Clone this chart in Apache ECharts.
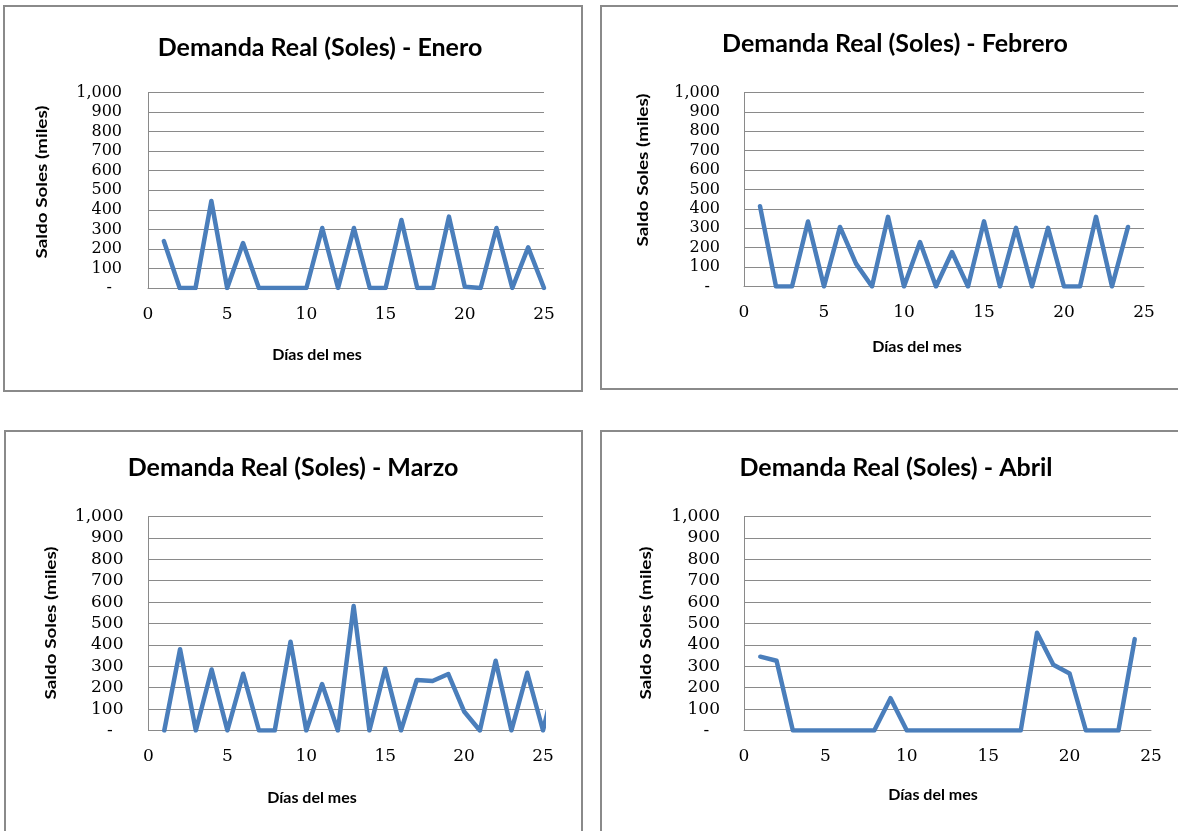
<!DOCTYPE html>
<html>
<head>
<meta charset="utf-8">
<script src="https://cdn.jsdelivr.net/npm/echarts@6/dist/echarts.min.js"></script>
<style>
  html, body { margin: 0; padding: 0; background: #ffffff; }
  #c { width: 1178px; height: 831px; }
</style>
</head>
<body>
<div id="c"></div>
<script>
// Saldo diario (miles de soles) por mes
const diasEnero = [1, 2, 3, 4, 5, 6, 7, 8, 9, 10, 11, 12, 13, 14, 15, 16, 17, 18, 19, 20, 21, 22, 23, 24, 25];
const saldoEnero = [240, 0, 0, 445, 0, 230, 0, 0, 0, 0, 307, 0, 307, 0, 0, 348, 0, 0, 365, 6, 0, 307, 0, 208, 0];

const diasFebrero = [1, 2, 3, 4, 5, 6, 7, 8, 9, 10, 11, 12, 13, 14, 15, 16, 17, 18, 19, 20, 21, 22, 23, 24];
const saldoFebrero = [414, 0, 0, 335, 0, 307, 118, 0, 359, 0, 229, 0, 178, 0, 336, 0, 302, 0, 302, 0, 0, 359, 0, 307];

const diasMarzo = [1, 2, 3, 4, 5, 6, 7, 8, 9, 10, 11, 12, 13, 14, 15, 16, 17, 18, 19, 20, 21, 22, 23, 24, 25, 26];
const saldoMarzo = [0, 380, 0, 285, 0, 265, 0, 0, 415, 0, 217, 0, 582, 0, 290, 0, 236, 231, 264, 89, 0, 326, 0, 270, 0, 300];

const diasAbril = [1, 2, 3, 4, 5, 6, 7, 8, 9, 10, 11, 12, 13, 14, 15, 16, 17, 18, 19, 20, 21, 22, 23, 24];
const saldoAbril = [345, 326, 0, 0, 0, 0, 0, 0, 151, 0, 0, 0, 0, 0, 0, 0, 0, 457, 307, 266, 0, 0, 0, 427];

const titulos = [
  'Demanda Real (Soles) - Enero',
  'Demanda Real (Soles) - Febrero',
  'Demanda Real (Soles) - Marzo',
  'Demanda Real (Soles) - Abril'
];
const etiquetasY = ['-  ', '100', '200', '300', '400', '500', '600', '700', '800', '900', '1,000'];
const etiquetasX = ['0', '5', '10', '15', '20', '25'];
const nombreX = 'Días del mes';
const nombreY = 'Saldo Soles (miles)';

const series = [
  [diasEnero, saldoEnero],
  [diasFebrero, saldoFebrero],
  [diasMarzo, saldoMarzo],
  [diasAbril, saldoAbril]
];

// Panel geometry: frame, plot area, text anchors
const paneles = [
  { frame: [4, 6, 578, 385], grid: [148, 92.5, 396, 195.5], title: [320, 48], xName: [317, 355], yName: [42, 182], yFont: 16, yMargin: 26 },
  { frame: [601, 6, 620, 383], grid: [744, 92.5, 400, 194], title: [895, 44], xName: [917, 347], yName: [643, 170], yFont: 16, yMargin: 24 },
  { frame: [5, 431, 577, 420], grid: [148.5, 516.5, 394.5, 214], title: [293, 468], xName: [312, 798], yName: [51, 623], yFont: 17, yMargin: 25 },
  { frame: [601, 431, 620, 420], grid: [744, 516.5, 407, 214], title: [896, 468], xName: [933, 795], yName: [646, 623], yFont: 17, yMargin: 24 }
];

const gris = '#8a8a8a';
const azul = '#4a7ebb';

const option = {
  animation: false,
  backgroundColor: '#ffffff',
  grid: [],
  xAxis: [],
  yAxis: [],
  series: [],
  graphic: []
};

paneles.forEach((p, i) => {
  option.graphic.push({
    type: 'rect',
    shape: { x: p.frame[0], y: p.frame[1], width: p.frame[2], height: p.frame[3] },
    style: { fill: '#ffffff', stroke: gris, lineWidth: 2 },
    z: -10
  });
  option.graphic.push({
    type: 'text', x: p.title[0], y: p.title[1],
    style: { text: titulos[i], font: 'bold 25px Lato', fill: '#000000', textAlign: 'center', textVerticalAlign: 'middle' }
  });
  option.graphic.push({
    type: 'text', x: p.xName[0], y: p.xName[1],
    style: { text: nombreX, font: 'bold 16px Lato', fill: '#000000', textAlign: 'center', textVerticalAlign: 'middle' }
  });
  // vertical axis title, stretched along its length
  option.graphic.push({
    type: 'text', x: p.yName[0], y: p.yName[1], rotation: Math.PI / 2, scaleX: 1.18, scaleY: 0.95,
    style: { text: nombreY, font: 'bold 16px Lato', fill: '#000000', textAlign: 'center', textVerticalAlign: 'middle' }
  });

  option.grid.push({ left: p.grid[0], top: p.grid[1], width: p.grid[2], height: p.grid[3], containLabel: false });
  option.xAxis.push({
    type: 'value', gridIndex: i, min: 0, max: 25, interval: 5,
    axisLine: { show: true, lineStyle: { color: gris, width: 1 } },
    axisTick: { show: false },
    splitLine: { show: false },
    axisLabel: {
      margin: 18, fontFamily: 'DejaVu Serif', fontSize: 17, color: '#000000',
      formatter: v => etiquetasX[Math.round(v / 5)]
    }
  });
  option.yAxis.push({
    type: 'value', gridIndex: i, min: 0, max: 1000, interval: 100,
    axisLine: { show: true, lineStyle: { color: gris, width: 1 } },
    axisTick: { show: false },
    splitLine: { show: true, lineStyle: { color: gris, width: 1 } },
    axisLabel: {
      margin: p.yMargin, fontFamily: 'DejaVu Serif', fontSize: p.yFont, color: '#000000',
      formatter: v => etiquetasY[Math.round(v / 100)]
    }
  });
  const [dias, saldo] = series[i];
  option.series.push({
    type: 'line', xAxisIndex: i, yAxisIndex: i,
    data: dias.map((d, k) => [d, saldo[k]]),
    showSymbol: false, symbol: 'none',
    clip: true,
    lineStyle: { color: azul, width: 4.5, join: 'round', cap: 'round' },
    z: 5
  });
});

const chart = echarts.init(document.getElementById('c'), null, { renderer: 'canvas' });
chart.setOption(option);
</script>
</body>
</html>
